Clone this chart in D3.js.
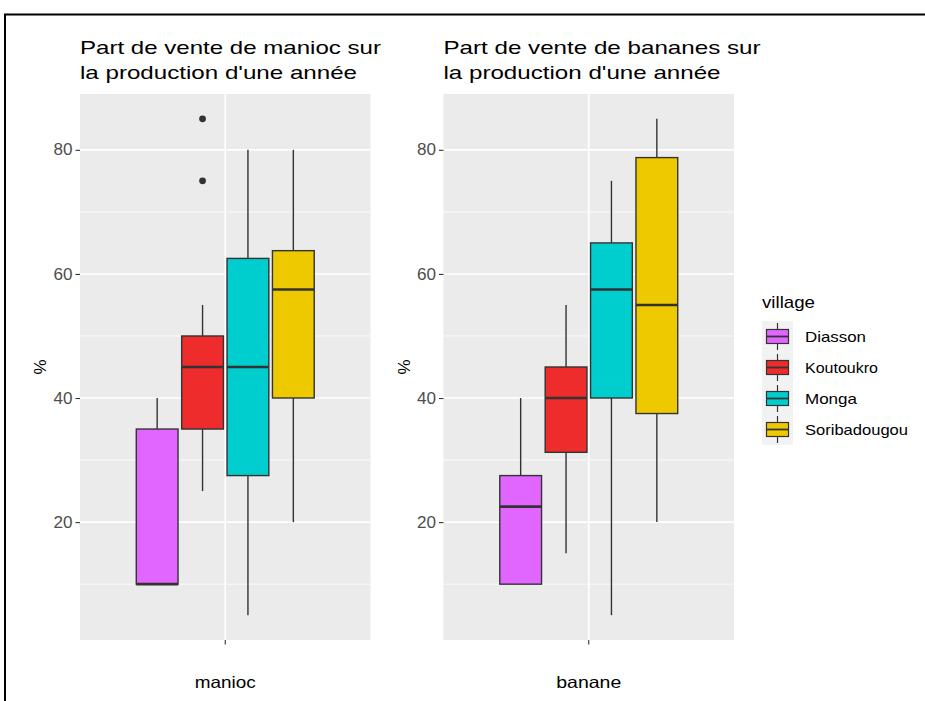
<!DOCTYPE html>
<html>
<head>
<meta charset="utf-8">
<script src="https://cdn.jsdelivr.net/npm/d3@7"></script>
<style>
  html, body { margin: 0; padding: 0; background: #fff; }
  svg { display: block; font-family: "Liberation Sans", Arial, sans-serif; }
</style>
</head>
<body>
<svg id="chart" width="925" height="701"></svg>
<script>
// Villages (fill groups) and their colours
const villages = ["Diasson", "Koutoukro", "Monga", "Soribadougou"];
const villageColors = ["#E066FF", "#EE2C2C", "#00CDCD", "#EEC900"];

// Box statistics per village: [lower whisker, Q1, median, Q3, upper whisker]
const maniocStats = [
  [10, 10, 10, 35, 40],
  [25, 35, 45, 50, 55],
  [5, 27.5, 45, 62.5, 80],
  [20, 40, 57.5, 63.75, 80]
];
const maniocOutliers = [[], [75, 85], [], []];

const bananeStats = [
  [10, 10, 22.5, 27.5, 40],
  [15, 31.25, 40, 45, 55],
  [5, 40, 57.5, 65, 75],
  [20, 37.5, 55, 78.75, 85]
];
const bananeOutliers = [[], [], [], []];

const yTicks = [20, 40, 60, 80];
const yMinor = [10, 30, 50, 70];

const panels = [
  { title: ["Part de vente de manioc sur", "la production d'une année"], titleW: [301, 277],
    category: "manioc", categoryW: 61,
    stats: maniocStats, outliers: maniocOutliers, left: 80 },
  { title: ["Part de vente de bananes sur", "la production d'une année"], titleW: [317, 277],
    category: "banane", categoryW: 65,
    stats: bananeStats, outliers: bananeOutliers, left: 443.5 }
];

const svg = d3.select("#chart");
const panelW = 290.5, panelTop = 94, panelBottom = 640;
const ink = "#333333";

// frame around the figure
svg.append("path").attr("d", "M5,701 V14.5 H925")
  .attr("fill", "none").attr("stroke", "#000").attr("stroke-width", 2);

const y = d3.scaleLinear().domain([1, 89]).range([panelBottom, panelTop]);

panels.forEach(p => {
  const g = svg.append("g");
  // discrete x with a 0.6 expansion on both sides of the single category
  const x = d3.scaleLinear().domain([0.4, 1.6]).range([p.left, p.left + panelW]);
  const dodge = d3.scaleBand().domain(villages).range([x(1 - 0.375), x(1 + 0.375)]);
  const boxW = dodge.bandwidth() * 0.92;

  g.append("rect").attr("x", p.left).attr("y", panelTop)
    .attr("width", panelW).attr("height", panelBottom - panelTop).attr("fill", "#EBEBEB");

  g.selectAll(".minor").data(yMinor).join("line")
    .attr("x1", p.left).attr("x2", p.left + panelW)
    .attr("y1", d => y(d)).attr("y2", d => y(d))
    .attr("stroke", "#fff").attr("stroke-width", 0.8);
  g.selectAll(".major").data(yTicks).join("line")
    .attr("x1", p.left).attr("x2", p.left + panelW)
    .attr("y1", d => y(d)).attr("y2", d => y(d))
    .attr("stroke", "#fff").attr("stroke-width", 1.6);
  g.append("line").attr("x1", x(1)).attr("x2", x(1))
    .attr("y1", panelTop).attr("y2", panelBottom)
    .attr("stroke", "#fff").attr("stroke-width", 1.6);

  // y axis
  const yAxis = d3.axisLeft(y).tickValues(yTicks).tickSize(4.5).tickPadding(3);
  const ya = g.append("g").attr("transform", `translate(${p.left},0)`).call(yAxis);
  ya.select(".domain").remove();
  ya.selectAll(".tick line").attr("stroke", ink).attr("stroke-width", 1.1);
  ya.selectAll(".tick text").attr("fill", "#4D4D4D").attr("font-size", 16)
    .attr("font-family", "Liberation Sans, Arial, sans-serif")
    .attr("textLength", 19).attr("lengthAdjust", "spacingAndGlyphs");

  // x axis: single unlabeled tick at the category
  g.append("line").attr("x1", x(1)).attr("x2", x(1))
    .attr("y1", panelBottom).attr("y2", panelBottom + 4.5)
    .attr("stroke", ink).attr("stroke-width", 1.1);

  // boxes, dodged by village
  villages.forEach((v, i) => {
    const s = p.stats[i];
    const cx = dodge(v) + dodge.bandwidth() / 2;
    const bg = g.append("g");
    bg.append("line").attr("x1", cx).attr("x2", cx)
      .attr("y1", y(s[3])).attr("y2", y(s[4]))
      .attr("stroke", ink).attr("stroke-width", 1.4);
    bg.append("line").attr("x1", cx).attr("x2", cx)
      .attr("y1", y(s[0])).attr("y2", y(s[1]))
      .attr("stroke", ink).attr("stroke-width", 1.4);
    bg.append("rect").attr("x", cx - boxW / 2).attr("y", y(s[3]))
      .attr("width", boxW).attr("height", y(s[1]) - y(s[3]))
      .attr("fill", villageColors[i]).attr("stroke", ink).attr("stroke-width", 1.4);
    bg.append("line").attr("x1", cx - boxW / 2).attr("x2", cx + boxW / 2)
      .attr("y1", y(s[2])).attr("y2", y(s[2]))
      .attr("stroke", ink).attr("stroke-width", 2.6);
    bg.selectAll("circle").data(p.outliers[i]).join("circle")
      .attr("cx", cx).attr("cy", d => y(d)).attr("r", 3.4).attr("fill", ink);
  });

  // two-line panel title
  p.title.forEach((line, k) => {
    g.append("text").attr("x", p.left).attr("y", 54 + k * 25)
      .attr("font-size", 19).attr("fill", "#000")
      .attr("textLength", p.titleW[k]).attr("lengthAdjust", "spacingAndGlyphs")
      .text(line);
  });

  // x-axis title
  g.append("text").attr("x", x(1) - p.categoryW / 2).attr("y", 688)
    .attr("font-size", 16.5).attr("fill", "#000")
    .attr("textLength", p.categoryW).attr("lengthAdjust", "spacingAndGlyphs")
    .text(p.category);

  // y-axis title
  g.append("text").attr("transform", `translate(${p.left - 34},${(panelTop + panelBottom) / 2}) rotate(-90)`)
    .attr("text-anchor", "middle").attr("font-size", 17).attr("fill", "#000").text("%");
});

// legend
const legendLabelW = [61, 73, 52, 103];
const lg = svg.append("g").attr("transform", "translate(762,0)");
lg.append("text").attr("x", 0).attr("y", 308).attr("font-size", 17).attr("fill", "#000")
  .attr("textLength", 53).attr("lengthAdjust", "spacingAndGlyphs").text("village");
const keyH = 31, keyTop = 321;
villages.forEach((v, i) => {
  const ky = keyTop + i * keyH;
  const k = lg.append("g");
  k.append("rect").attr("x", 0).attr("y", ky).attr("width", 31).attr("height", keyH).attr("fill", "#F2F2F2");
  k.append("line").attr("x1", 15.5).attr("x2", 15.5).attr("y1", ky + 2).attr("y2", ky + keyH - 2)
    .attr("stroke", ink).attr("stroke-width", 1.2);
  k.append("rect").attr("x", 4.5).attr("y", ky + 8.5).attr("width", 22).attr("height", keyH - 17)
    .attr("fill", villageColors[i]).attr("stroke", ink).attr("stroke-width", 1.2);
  k.append("line").attr("x1", 4.5).attr("x2", 26.5).attr("y1", ky + keyH / 2).attr("y2", ky + keyH / 2)
    .attr("stroke", ink).attr("stroke-width", 1.8);
  k.append("text").attr("x", 43).attr("y", ky + keyH / 2 + 5.5).attr("font-size", 15)
    .attr("fill", "#000").attr("textLength", legendLabelW[i]).attr("lengthAdjust", "spacingAndGlyphs")
    .text(v);
});
</script>
</body>
</html>
